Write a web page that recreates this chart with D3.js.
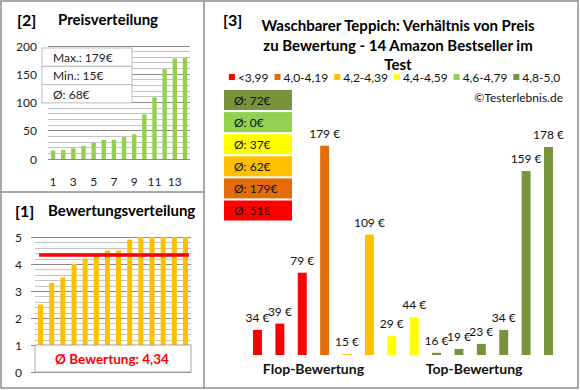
<!DOCTYPE html>
<html><head><meta charset="utf-8">
<script src="https://cdn.jsdelivr.net/npm/d3@7"></script>
<style>body{margin:0;background:#fff}svg{display:block;font-family:Lato,"Liberation Sans",sans-serif}</style>
</head><body><svg id="c" width="580" height="390"></svg>
<script>
// ---- data ----
const sortedPrices = [15,16,19,23,29,34,34,39,44,79,109,159,178,179];
const priceTicks = [0,50,100,150,200];
const priceXLabels = [1,3,5,7,9,11,13];
const ratings = [2.5,3.3,3.5,4.0,4.2,4.3,4.5,4.5,4.9,5,5,5,5,5];
const ratingTicks = [0,1,2,3,4,5];
const avgRatingLabel = "4,34";
const productPrices = [34,39,79,179,15,109,29,44,16,19,23,34,159,178];
const productGroups = [0,0,0,1,2,2,3,3,5,5,5,5,5,5];
const groupLabels = ["<3,99","4,0-4,19","4,2-4,39","4,4-4,59","4,6-4,79","4,8-5,0"];
const groupColors = ["#FF0000","#E46C0A","#FFC000","#FFFF00","#92D050","#77933C"];
const groupAverages = [51,179,62,37,0,72];
const sectionLabels = ["Flop-Bewertung","Top-Bewertung"];
const titleLines = ["Waschbarer Teppich: Verhältnis von Preis","zu Bewertung - 14 Amazon Bestseller im","Test"];

const svg = d3.select("#c");
svg.append("rect").attr("width",580).attr("height",390).attr("fill","#fff");

// ---- panel borders ----
const bc = "#8c8c8c";
svg.append("rect").attr("x",1).attr("y",1).attr("width",577).attr("height",387)
  .attr("fill","none").attr("stroke",bc).attr("stroke-width",1.5);
svg.append("line").attr("x1",204).attr("x2",204).attr("y1",1).attr("y2",388).attr("stroke",bc).attr("stroke-width",1.5);
svg.append("line").attr("x1",1).attr("x2",204).attr("y1",192).attr("y2",192).attr("stroke",bc).attr("stroke-width",1.5);

const minorC = "#c4c4c4", majorC = "#8a8a8a";

// ---- panel [2] Preisverteilung ----
svg.append("text").attr("x",17).attr("y",19).attr("dominant-baseline","central")
  .attr("font-size",16).attr("font-weight","bold").text("[2]");
svg.append("text").attr("x",58).attr("y",19).attr("dominant-baseline","central")
  .attr("font-size",15).attr("font-weight","bold").text("Preisverteilung");

const px = d3.scaleBand().domain(d3.range(sortedPrices.length)).range([48,190]).paddingInner(0.57).paddingOuter(0.285);
const py = d3.scaleLinear().domain([0,200]).range([159,46]);
const pg = svg.append("g");
pg.selectAll("line.mn").data(d3.range(0,201,10)).join("line")
  .attr("x1",48).attr("x2",190).attr("y1",d=>py(d)).attr("y2",d=>py(d))
  .attr("stroke",d=>d%50===0?majorC:minorC).attr("stroke-width",1).attr("shape-rendering","crispEdges");
pg.selectAll("rect").data(sortedPrices).join("rect")
  .attr("x",(d,i)=>px(i)).attr("width",px.bandwidth())
  .attr("y",d=>py(d)).attr("height",d=>py(0)-py(d)).attr("fill","#92D050");
pg.selectAll("text.yl").data(priceTicks).join("text")
  .attr("x",37).attr("y",d=>py(d)).attr("text-anchor","end").attr("dominant-baseline","central")
  .attr("font-size",12).attr("fill","#222").text(d=>d);
pg.selectAll("text.xl").data(priceXLabels).join("text")
  .attr("x",d=>px(d-1)+px.bandwidth()/2).attr("y",181).attr("text-anchor","middle").attr("dominant-baseline","central")
  .attr("font-size",12).attr("fill","#222").text(d=>d);
// stats box
const stats = [
  "Max.: " + d3.max(sortedPrices) + "€",
  "Min.: " + d3.min(sortedPrices) + "€",
  "Ø: " + Math.round(d3.mean(sortedPrices)) + "€"
];
const sb = svg.append("g");
sb.selectAll("rect").data(stats).join("rect")
  .attr("x",42).attr("y",(d,i)=>48+i*18.3).attr("width",90).attr("height",18.3)
  .attr("fill","#fff").attr("stroke","#bdbdbd").attr("stroke-width",1);
sb.selectAll("text").data(stats).join("text")
  .attr("x",53).attr("y",(d,i)=>48+i*18.3+9.5).attr("dominant-baseline","central")
  .attr("font-size",12).attr("fill","#222").text(d=>d);

// ---- panel [1] Bewertungsverteilung ----
svg.append("text").attr("x",15).attr("y",210).attr("dominant-baseline","central")
  .attr("font-size",16).attr("font-weight","bold").text("[1]");
svg.append("text").attr("x",48).attr("y",210).attr("dominant-baseline","central")
  .attr("font-size",15).attr("font-weight","bold").text("Bewertungsverteilung");

const rx = d3.scaleBand().domain(d3.range(ratings.length)).range([35,191]).paddingInner(0.55).paddingOuter(0.275);
const ry = d3.scaleLinear().domain([0,5]).range([372,237]);
const rg = svg.append("g");
rg.selectAll("line.g").data(d3.range(0,26).map(i=>i/5)).join("line")
  .attr("x1",(d,i)=>i%5===0?31:35).attr("x2",191).attr("y1",d=>Math.round(ry(d))+0.5).attr("y2",d=>Math.round(ry(d))+0.5)
  .attr("stroke",(d,i)=>i%5===0?majorC:minorC).attr("stroke-width",1);
rg.selectAll("rect").data(ratings).join("rect")
  .attr("x",(d,i)=>rx(i)).attr("width",rx.bandwidth())
  .attr("y",d=>ry(d)).attr("height",d=>ry(0)-ry(d)).attr("fill","#FFC000");
const avgR = d3.mean(ratings);
rg.append("line").attr("x1",rx(0)+1).attr("x2",rx(ratings.length-1)+rx.bandwidth()+1)
  .attr("y1",ry(avgR)).attr("y2",ry(avgR)).attr("stroke","#FF0000").attr("stroke-width",3.5);
rg.selectAll("text.yl").data(ratingTicks).join("text")
  .attr("x",22).attr("y",d=>ry(d)).attr("text-anchor","end").attr("dominant-baseline","central")
  .attr("font-size",12).attr("fill","#222").text(d=>d);
rg.append("rect").attr("x",35).attr("y",ry(1)).attr("width",156).attr("height",ry(0)-ry(1))
  .attr("fill","#fff").attr("stroke","#a6a6a6");
rg.append("text").attr("x",112).attr("y",(ry(1)+ry(0))/2).attr("text-anchor","middle").attr("dominant-baseline","central")
  .attr("font-size",13.5).attr("font-weight","bold").attr("fill","#FF0000").text("Ø Bewertung: " + avgRatingLabel);

// ---- panel [3] main ----
svg.append("text").attr("x",223).attr("y",19).attr("dominant-baseline","central")
  .attr("font-size",16).attr("font-weight","bold").text("[3]");
svg.selectAll("text.title").data(titleLines).join("text")
  .attr("x",398).attr("y",(d,i)=>25+i*19.5).attr("text-anchor","middle").attr("dominant-baseline","central")
  .attr("font-size",15).attr("font-weight","bold").text(d=>d);

// legend
const lg = svg.append("g");
let lx = 0;
groupLabels.forEach((lab,i)=>{
  const g = lg.append("g");
  g.append("rect").attr("x",0).attr("y",-3).attr("width",6).attr("height",6).attr("fill",groupColors[i]);
  const t = g.append("text").attr("x",9).attr("y",0).attr("dominant-baseline","central").attr("font-size",12).attr("fill","#111").text(lab);
  const w = 9 + t.node().getComputedTextLength();
  g.attr("transform",`translate(${lx},77)`);
  lx += w + 6;
});
const totalW = lx - 6;
lg.attr("transform",`translate(${394.5-totalW/2},0)`);

svg.append("text").attr("x",563).attr("y",97).attr("text-anchor","end").attr("dominant-baseline","central")
  .attr("font-size",12).attr("fill","#111").text("©Testerlebnis.de");

// average boxes (top: best group)
const boxOrder = d3.range(groupLabels.length).reverse();
const bx = svg.append("g");
bx.selectAll("rect").data(boxOrder).join("rect")
  .attr("x",224).attr("y",(d,i)=>90+i*22.1).attr("width",68).attr("height",20).attr("fill",d=>groupColors[d]);
bx.selectAll("text").data(boxOrder).join("text")
  .attr("x",234).attr("y",(d,i)=>90+i*22.1+10).attr("dominant-baseline","central")
  .attr("font-size",12).attr("fill","#111").text(d=>"Ø: " + groupAverages[d] + "€");

const mx = d3.scaleBand().domain(d3.range(productPrices.length)).range([246.3,559.7]).paddingInner(0.6).paddingOuter(0.3);
const my = d3.scaleLinear().domain([d3.min(productPrices)*0.95,200]).range([355,119]);
const mg = svg.append("g");
mg.selectAll("rect").data(productPrices).join("rect")
  .attr("x",(d,i)=>mx(i)).attr("width",mx.bandwidth())
  .attr("y",d=>my(d)).attr("height",d=>my.range()[0]-my(d)).attr("fill",(d,i)=>groupColors[productGroups[i]]);
mg.selectAll("text").data(productPrices).join("text")
  .attr("x",(d,i)=>mx(i)+mx.bandwidth()/2).attr("y",d=>my(d)-12.5)
  .attr("text-anchor","middle").attr("dominant-baseline","central").attr("font-size",12).attr("fill","#111")
  .text(d=>d + " €");

const secX = [(mx(0)+mx(5)+mx.bandwidth())/2, (mx(6)+mx(13)+mx.bandwidth())/2 + 4];
svg.selectAll("text.sec").data(sectionLabels).join("text")
  .attr("x",(d,i)=>secX[i]).attr("y",368).attr("text-anchor","middle").attr("dominant-baseline","central")
  .attr("font-size",14).attr("font-weight","bold").attr("fill","#111").text(d=>d);
</script></body></html>
